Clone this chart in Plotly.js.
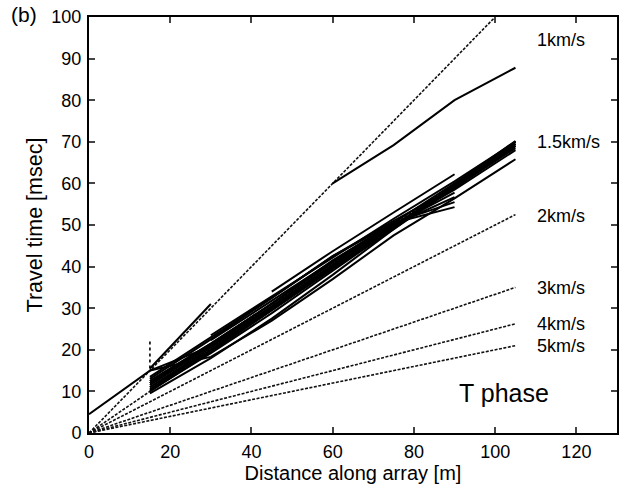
<!DOCTYPE html>
<html>
<head>
<meta charset="utf-8">
<script src="https://cdn.plot.ly/plotly-3.0.1.min.js"></script>
<style>html,body{margin:0;padding:0;background:#fff;}#chart{width:619px;height:484px;}</style>
</head>
<body>
<div id="chart"></div>
<script>
// Reference velocity lines (km/s) and their end times at 105 m
const velLabels = ['1km/s', '1.5km/s', '2km/s', '3km/s', '4km/s', '5km/s'];
const refDist = [0, 105];
const refEndTime = [105, 70, 52.5, 35, 26.25, 21];
const labelTime = [94.5, 69.9, 52.2, 34.8, 26.1, 20.8];

// Measured T-phase tracks (distance m, time ms)
const dist15to105 = [15, 30, 45, 60, 75, 90, 105];
const dist15to90 = [15, 30, 45, 60, 75, 90];
const dist30to105 = [30, 45, 60, 75, 90, 105];
const dist45to90 = [45, 60, 75, 90];
const dist60to105 = [60, 75, 90, 105];
const dist0to105 = [0, 15, 30, 45, 60, 75, 90, 105];
const dist15to30 = [15, 30];

const track1 = [10, 19.5, 29.5, 39.5, 49, 59, 69.5];
const track2 = [11, 20.5, 30, 40, 49.5, 59.5, 70];
const track3 = [12, 21, 30.5, 40.5, 50, 59, 68.5];
const track4 = [9.5, 18, 27.5, 38, 49, 59.5, 70];
const track5 = [12.5, 21.5, 31, 41, 50, 58.5, 68];
const track6 = [13.5, 23, 32.5, 42.5, 51, 59, 69];
const track7 = [10.5, 20, 29.5, 39.5, 49.5, 59.5, 69.5];
const track8 = [13, 22.5, 32.5, 42.5, 50.5, 54.3];
const track9 = [12.5, 21.5, 31, 41, 50, 56.7];
const track10 = [11, 20, 30, 40, 50, 57.8];
const track11 = [23.5, 32.8, 42.3, 51.5, 60.5, 70];
const track12 = [22.3, 31.8, 41.3, 50.5, 60, 69.5];
const track13 = [34, 43.7, 53, 62.2];
const track14 = [15, 18.3, 27, 37, 47.5, 56.4, 65.8];
const track15 = [60, 69.2, 80, 87.8];
const track16 = [4.5, 15, 20.8, 30, 40, 49.5, 59, 69];
const track17 = [15.5, 31];
const track18 = [11.5, 20.8, 30.2, 40.2, 49.8, 59.2, 69];
const track19 = [10.2, 19.2, 28.8, 39, 49.2, 59.8, 70.2];
const track20 = [12, 21.2, 31.2, 41.5, 50.5, 55.5];

// dotted vertical mark at 15 m
const markDist = [15, 15];
const markTime = [15.5, 22];

const tracks = [
  [dist15to105, track1], [dist15to105, track2], [dist15to105, track3],
  [dist15to105, track4], [dist15to105, track5], [dist15to105, track6],
  [dist15to105, track7], [dist15to90, track8], [dist15to90, track9],
  [dist15to90, track10], [dist30to105, track11], [dist30to105, track12],
  [dist45to90, track13], [dist15to105, track14], [dist60to105, track15],
  [dist0to105, track16], [dist15to30, track17], [dist15to105, track18],
  [dist15to105, track19], [dist15to90, track20]
];

const traces = [];
refEndTime.forEach(function (t) {
  traces.push({x: refDist, y: [0, t], mode: 'lines', type: 'scatter',
    line: {color: '#111', width: 1.6, dash: '3px,1.5px'}, hoverinfo: 'skip'});
});
tracks.forEach(function (tr) {
  traces.push({x: tr[0], y: tr[1], mode: 'lines', type: 'scatter',
    line: {color: '#000', width: 2}, hoverinfo: 'skip'});
});
traces.push({x: markDist, y: markTime, mode: 'lines', type: 'scatter',
  line: {color: '#000', width: 1.6, dash: 'dot'}, hoverinfo: 'skip'});

const font = 'Arial, "Liberation Sans", sans-serif';
const annotations = velLabels.map(function (s, i) {
  return {x: 109.8, y: labelTime[i], xref: 'x', yref: 'y', text: s, showarrow: false,
    xanchor: 'left', yanchor: 'middle', font: {family: font, size: 18, color: '#000'}};
});
annotations.push({x: 90.6, y: 9.6, xref: 'x', yref: 'y', text: 'T phase', showarrow: false,
  xanchor: 'left', yanchor: 'middle', font: {family: font, size: 25, color: '#000'}});
annotations.push({x: -0.152, y: 1.005, xref: 'paper', yref: 'paper', text: '(b)', showarrow: false,
  xanchor: 'left', yanchor: 'middle', font: {family: font, size: 21, color: '#000'}});

const layout = {
  width: 619, height: 484,
  margin: {l: 89, r: 2, t: 17, b: 51},
  paper_bgcolor: '#fff', plot_bgcolor: '#fff',
  showlegend: false,
  font: {family: font, size: 18, color: '#000'},
  xaxis: {range: [0, 130], tickvals: [0, 20, 40, 60, 80, 100, 120], ticks: 'inside', ticklen: 6,
    tickwidth: 2, showgrid: false, zeroline: false, showline: true, linewidth: 2,
    linecolor: '#000', mirror: 'ticks', ticklabelstandoff: 1,
    title: {text: 'Distance along array [m]', font: {family: font, size: 20}, standoff: 3},
    tickfont: {family: font, size: 18}},
  yaxis: {range: [0, 100], tickvals: [0, 10, 20, 30, 40, 50, 60, 70, 80, 90, 100], ticks: 'inside',
    ticklen: 6, tickwidth: 2, showgrid: false, zeroline: false, showline: true, linewidth: 2,
    linecolor: '#000', mirror: 'ticks', ticklabelstandoff: 2,
    title: {text: 'Travel time [msec]', font: {family: font, size: 21.5}, standoff: 3},
    tickfont: {family: font, size: 18}},
  annotations: annotations
};

Plotly.newPlot('chart', traces, layout, {displayModeBar: false, staticPlot: true});
</script>
</body>
</html>
